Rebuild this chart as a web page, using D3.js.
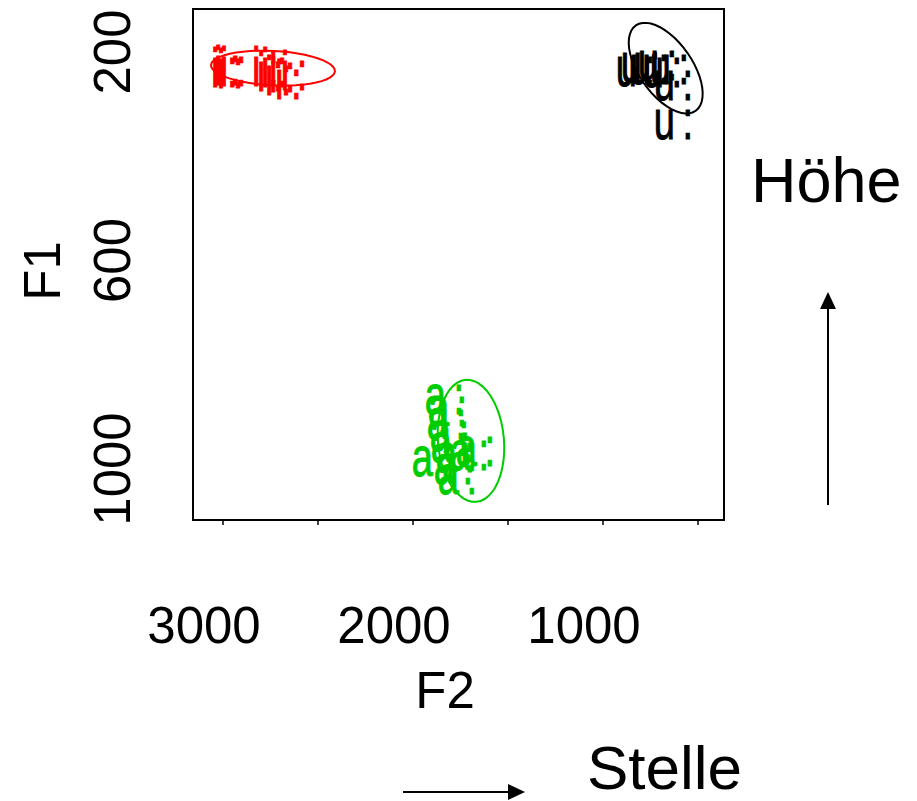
<!DOCTYPE html>
<html>
<head>
<meta charset="utf-8">
<script src="https://cdn.jsdelivr.net/npm/d3@7"></script>
<style>
  html, body { margin: 0; padding: 0; background: #fff; }
  svg { display: block; font-family: "Liberation Sans", Arial, sans-serif; }
</style>
</head>
<body>
<svg id="chart" width="917" height="801"></svg>
<script>
// Axis ticks and labels (Hz)
const f2Ticks = [3000, 2500, 2000, 1500, 1000, 500];
const f2TickLabels = [3000, 2000, 1000];
const f1TickLabels = [200, 600, 1000];

// Vowel tokens: F2 and F1 in Hz
const iF2 = [3042, 3026, 3011, 2995, 2826, 2800, 2779, 2758, 2737, 2705, 2674];
const iF1 = [240, 236, 242, 238, 238, 248, 240, 256, 250, 263, 246];
const uF2 = [879, 853, 805, 763, 737, 700, 679, 679];
const uF1 = [238, 231, 235, 227, 240, 235, 265, 340];
const aF2 = [1884, 1868, 1874, 1858, 1853, 1953, 1826, 1837, 1816, 1721, 1753];
const aF1 = [868, 891, 916, 939, 960, 987, 979, 1002, 1021, 967, 975];

// Ellipses: centre (F2, F1) and two conjugate semi-axis vectors (dF2, dF1)
const iEllipse = { centre: [2737, 231], axis1: [-326, 6], axis2: [5, 33] };
const uEllipse = { centre: [670, 231], axis1: [-157, 82], axis2: [115, 29] };
const aEllipse = { centre: [1695, 946], axis1: [-28, 117], axis2: [173, 5.5] };

const groups = [
  { label: "i:", f2: iF2, f1: iF1, ell: iEllipse, color: "#ff0000" },
  { label: "u:", f2: uF2, f1: uF1, ell: uEllipse, color: "#000000" },
  { label: "a:", f2: aF2, f1: aF1, ell: aEllipse, color: "#00cd00" }
];

const svg = d3.select("#chart");

// Reversed axes: F2 decreases to the right, F1 increases downward
const x = d3.scaleLinear().domain([3000, 1000]).range([223, 603]);
const y = d3.scaleLinear().domain([200, 1000]).range([52, 469]);

// Plot frame
svg.append("rect")
  .attr("x", 193).attr("y", 9).attr("width", 531).attr("height", 511)
  .attr("fill", "none").attr("stroke", "#000").attr("stroke-width", 2);

// X ticks below the frame
svg.append("g").selectAll("line").data(f2Ticks).join("line")
  .attr("x1", d => x(d)).attr("x2", d => x(d))
  .attr("y1", 520).attr("y2", 525)
  .attr("stroke", "#000").attr("stroke-width", 1.5);

svg.append("g").selectAll("text").data(f2TickLabels).join("text")
  .attr("x", d => x(d) - 19).attr("y", 643)
  .attr("text-anchor", "middle").attr("font-size", 51)
  .text(d => d);

svg.append("g").selectAll("text").data(f1TickLabels).join("text")
  .attr("transform", d => `translate(130,${y(d)}) rotate(-90)`)
  .attr("text-anchor", "middle").attr("font-size", 51)
  .text(d => d);

// Axis titles
svg.append("text").attr("x", 445).attr("y", 708)
  .attr("text-anchor", "middle").attr("font-size", 51).text("F2");
svg.append("text").attr("transform", "translate(60,271) rotate(-90)")
  .attr("text-anchor", "middle").attr("font-size", 51).text("F1");

// Clip tokens and ellipses to the plotting frame
svg.append("clipPath").attr("id", "plotclip")
  .append("rect").attr("x", 194).attr("y", 10).attr("width", 529).attr("height", 509);
const plot = svg.append("g").attr("clip-path", "url(#plotclip)");

const line = d3.line().x(d => x(d[0])).y(d => y(d[1])).curve(d3.curveLinearClosed);
const angles = d3.range(0, 2 * Math.PI, Math.PI / 24);

groups.forEach(g => {
  const e = g.ell;
  const pts = angles.map(t => [
    e.centre[0] + e.axis1[0] * Math.cos(t) + e.axis2[0] * Math.sin(t),
    e.centre[1] + e.axis1[1] * Math.cos(t) + e.axis2[1] * Math.sin(t)
  ]);
  plot.append("path").attr("d", line(pts))
    .attr("fill", "none").attr("stroke", g.color).attr("stroke-width", 2);

  const tokens = g.f2.map((v, i) => [v, g.f1[i]]);
  plot.append("g").selectAll("text").data(tokens).join("text")
    .attr("transform", d => `translate(${x(d[0])},${y(d[1]) + 14}) scale(0.68,1)`)
    .attr("dx", g.label === "i:" ? -6 : -15)
    .attr("font-size", 56)
    .attr("letter-spacing", 11)
    .attr("fill", g.color)
    .attr("stroke", g.color)
    .attr("stroke-width", 1)
    .text(g.label);
});

// Direction annotations
svg.append("text").attr("x", 751).attr("y", 202).attr("font-size", 63).text("Höhe");
svg.append("text").attr("x", 587).attr("y", 789).attr("font-size", 62).text("Stelle");

svg.append("line").attr("x1", 828).attr("x2", 828).attr("y1", 505).attr("y2", 305)
  .attr("stroke", "#000").attr("stroke-width", 2);
svg.append("path").attr("d", "M820,309 L836,309 L828,292 Z").attr("fill", "#000");

svg.append("line").attr("x1", 403).attr("x2", 512).attr("y1", 792).attr("y2", 792)
  .attr("stroke", "#000").attr("stroke-width", 2);
svg.append("path").attr("d", "M508,784 L508,800 L525,792 Z").attr("fill", "#000");
</script>
</body>
</html>
